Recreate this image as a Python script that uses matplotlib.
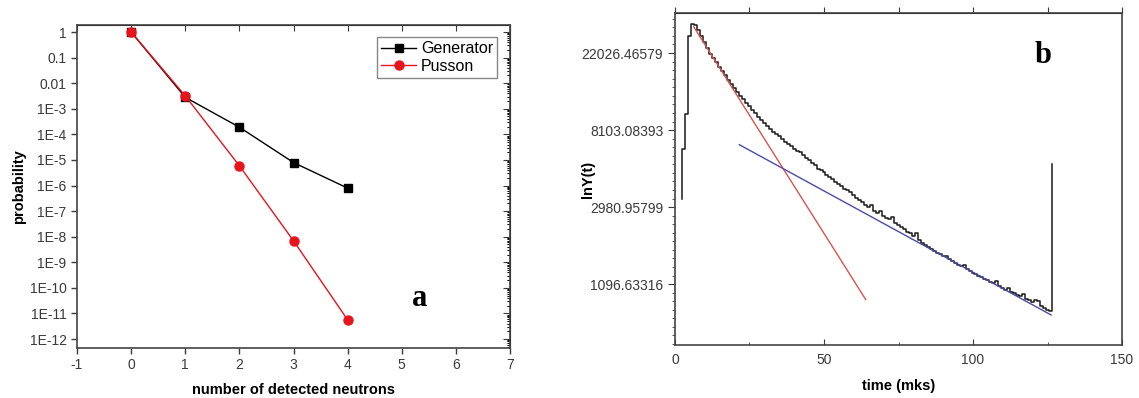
import numpy as np
import matplotlib
matplotlib.use("Agg")
import matplotlib.pyplot as plt
from matplotlib.ticker import FixedLocator, MultipleLocator, AutoMinorLocator, LogLocator, NullFormatter

plt.rcParams['font.family'] = ['Liberation Sans', 'DejaVu Sans']
plt.rcParams['axes.unicode_minus'] = False

# panel a: probability of n detected neutrons
n_neutrons = [0, 1, 2, 3, 4]
p_generator = [1.0, 2.8e-3, 1.9e-4, 7.9e-6, 7.9e-7]
p_pusson = [1.0, 3.2e-3, 5.9e-6, 6.9e-9, 5.6e-12]
prob_ticks = [1, 1e-1, 1e-2, 1e-3, 1e-4, 1e-5, 1e-6, 1e-7, 1e-8, 1e-9, 1e-10, 1e-11, 1e-12]
prob_labels = ['1', '0.1', '0.01', '1E-3', '1E-4', '1E-5', '1E-6', '1E-7', '1E-8',
               '1E-9', '1E-10', '1E-11', '1E-12']

# panel b: lnY(t), 1 mks bins from 2.5 to 126.5 mks
bin_start = 2.5
ln_start = 8.11   # level where the trace begins
ln_spike = 8.56   # level of the jump at the end
ln_y = [8.76, 9.21, 10.22, 10.38, 10.37, 10.30, 10.22, 10.14, 10.06, 9.99,
        9.93, 9.88, 9.82, 9.77, 9.71, 9.65, 9.60, 9.55, 9.50, 9.44,
        9.40, 9.35, 9.31, 9.26, 9.22, 9.17, 9.13, 9.09, 9.05, 9.01,
        8.98, 8.95, 8.92, 8.88, 8.85, 8.82, 8.79, 8.76, 8.73, 8.71,
        8.68, 8.64, 8.61, 8.57, 8.54, 8.50, 8.48, 8.45, 8.42, 8.39,
        8.36, 8.33, 8.30, 8.27, 8.24, 8.22, 8.19, 8.16, 8.12, 8.09,
        8.06, 8.03, 8.00, 8.03, 7.95, 7.92, 7.95, 7.89, 7.86, 7.84,
        7.87, 7.80, 7.77, 7.74, 7.71, 7.68, 7.66, 7.63, 7.66, 7.57,
        7.54, 7.51, 7.48, 7.46, 7.43, 7.41, 7.39, 7.37, 7.36, 7.32,
        7.30, 7.28, 7.25, 7.23, 7.25, 7.19, 7.17, 7.15, 7.13, 7.11,
        7.09, 7.07, 7.05, 7.03, 7.01, 7.04, 6.97, 6.95, 6.93, 6.95,
        6.90, 6.88, 6.86, 6.84, 6.87, 6.81, 6.79, 6.77, 6.80, 6.78,
        6.71, 6.69, 6.67, 6.65]
# exponential fits (straight in ln scale)
fast_t = [6.3, 64.0]
fast_ln = [10.34, 6.80]
slow_t = [21.6, 126.2]
slow_ln = [8.81, 6.60]
ln_ticks = [7, 8, 9, 10]

GRAY = '#3a3a3a'


def panel_a(ax):
    ax.plot(n_neutrons, p_generator, '-s', color='black', lw=1.0, ms=5.5, label='Generator')
    ax.plot(n_neutrons, p_pusson, '-o', color='#e8141c', lw=1.0, ms=6.5, label='Pusson')
    ax.set_yscale('log')
    ax.set_xlim(-1, 7)
    ax.set_ylim(4.45e-13, 1.88)
    ax.set_yticks(prob_ticks)
    ax.set_yticklabels(prob_labels)
    ax.yaxis.set_minor_locator(LogLocator(base=10, subs=np.arange(2, 10), numticks=30))
    ax.yaxis.set_minor_formatter(NullFormatter())
    ax.xaxis.set_major_locator(MultipleLocator(1))
    ax.tick_params(axis='both', which='major', direction='out', length=4, width=1,
                   labelsize=10, colors=GRAY, top=False, right=False)
    ax.tick_params(axis='y', which='minor', left=False, right=True, direction='in', length=2.5)
    sec = ax.secondary_yaxis('right')
    sec.set_yscale('log')
    sec.set_yticks(prob_ticks)
    sec.tick_params(direction='in', length=5, labelright=False, colors=GRAY)
    sec.yaxis.set_minor_locator(LogLocator(base=10, subs=np.arange(2, 10), numticks=30))
    sec.tick_params(which='minor', direction='in', length=2.5, labelright=False, colors=GRAY)
    top = ax.secondary_xaxis('top')
    top.xaxis.set_major_locator(MultipleLocator(1))
    top.tick_params(direction='in', length=4, labeltop=False, colors=GRAY)
    ax.set_xlabel('number of detected neutrons', fontsize=10.5, fontweight='bold')
    ax.set_ylabel('probability', fontsize=10.5, fontweight='bold')
    ax.xaxis.set_label_coords(0.5, -0.108)
    ax.yaxis.set_label_coords(-0.118, 0.5)
    leg = ax.legend(loc='upper right', bbox_to_anchor=(0.978, 0.972), fontsize=11.5,
                    fancybox=False, framealpha=1, edgecolor='#888888',
                    handlelength=2.2, borderpad=0.25, labelspacing=0.15, handletextpad=0.3,
                    borderaxespad=0.2)
    leg.get_frame().set_linewidth(1.0)
    ax.text(5.34, 4e-11, 'a', fontsize=22, fontweight='bold', family='Liberation Serif',
            ha='center', va='center')


def panel_b(ax):
    times = np.concatenate([[bin_start], bin_start + np.arange(len(ln_y) + 1)])
    trace = [ln_start] + ln_y + [ln_spike]
    ax.plot(times, trace, drawstyle='steps-post', color='#1a1a1a', lw=1.1)
    ax.plot(fast_t, fast_ln, color='#d9534f', lw=1.0)
    ax.plot(slow_t, slow_ln, color='#4a4aa8', lw=1.0)
    ax.set_xlim(0, 150)
    ax.set_ylim(6.21, 10.52)
    ax.yaxis.set_major_locator(FixedLocator(ln_ticks))
    ax.set_yticklabels([f'{np.exp(v):.5f}' for v in ln_ticks])
    ax.yaxis.set_minor_locator(AutoMinorLocator(9))
    ax.xaxis.set_major_locator(MultipleLocator(50))
    ax.xaxis.set_minor_locator(MultipleLocator(25))
    ax.tick_params(axis='y', which='major', direction='out', length=5, labelsize=10, colors=GRAY)
    ax.tick_params(axis='y', which='minor', direction='out', length=2.5, colors=GRAY)
    ax.tick_params(axis='x', which='major', direction='in', length=4, labelsize=10, colors=GRAY, pad=6)
    ax.tick_params(axis='x', which='minor', direction='in', length=2.5, colors=GRAY)
    top = ax.secondary_xaxis('top')
    top.xaxis.set_major_locator(MultipleLocator(25))
    top.tick_params(direction='out', length=4, labeltop=False, colors=GRAY)
    ax.set_xlabel('time (mks)', fontsize=10.5, fontweight='bold')
    ax.set_ylabel('lnY(t)', fontsize=10.5, fontweight='bold')
    ax.xaxis.set_label_coords(0.5, -0.102)
    ax.yaxis.set_label_coords(-0.18, 0.5)
    ax.text(123.5, 9.97, 'b', fontsize=22, fontweight='bold', family='Liberation Serif',
            ha='center', va='center')


def main():
    fig = plt.figure(figsize=(11.39, 3.98), dpi=100)
    ax_a = fig.add_axes([0.0676, 0.1256, 0.3802, 0.8116])
    ax_b = fig.add_axes([0.5926, 0.1332, 0.3925, 0.8342])
    for ax in (ax_a, ax_b):
        for s in ax.spines.values():
            s.set_color('#444444')
            s.set_linewidth(1.2)
    panel_a(ax_a)
    panel_b(ax_b)
    fig.savefig('out.png', dpi=100)


if __name__ == '__main__':
    main()
